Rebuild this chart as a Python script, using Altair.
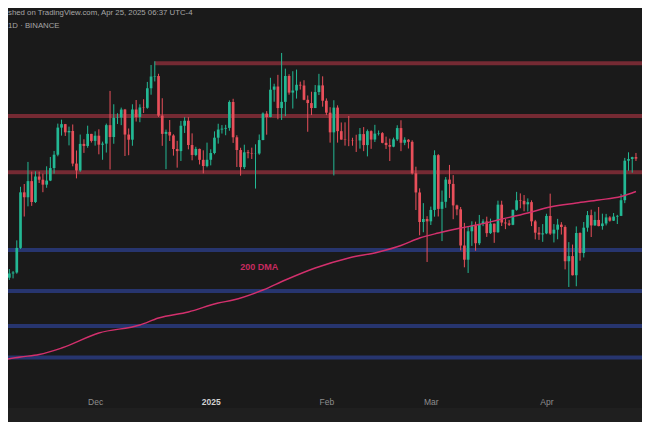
import altair as alt
import pandas as pd

# ---------------- data (BTC/USDT 1D) ----------------
first_day = "2024-11-06"
closes = [
    75860, 75900, 76540, 76680, 80370, 88700, 87960, 90380, 87250, 91070, 90590, 89850, 90460,
    92340, 94340, 98400, 98920, 97690, 97900, 93010, 91970, 95960, 95650, 97460, 96410,
    97190, 95840, 96000, 98770, 96990, 99870, 99910, 101110, 97360, 96590, 101120, 100000, 101420,
    101370, 104300, 106060, 106130, 100200, 97460, 97760, 97220, 95190, 94880, 98680, 99430, 95790,
    94300, 95210, 93570, 92640, 93580,
    94590, 96890, 98110, 98240, 98360, 102240, 96950, 95040, 92480, 94700, 94570, 94500, 94520,
    96530, 100500, 99990, 104080, 104560, 101330, 102260, 106140, 103650, 103960, 104820, 104710,
    102570, 102080, 101330, 103730, 104730, 102430,
    100640, 97690, 101400, 97870, 96610, 96550, 96530, 96480, 96470, 97430, 95780, 97870, 96610,
    97500, 97570, 96120, 95780, 95540, 96640, 98330, 96130, 96580, 96270, 91550, 88680, 84250,
    84700, 84350,
    86060, 94270, 86220, 87280, 90610, 89960, 86740, 86150, 80730, 78600, 82860, 83720, 81070,
    83970, 84340, 82580, 84010, 82720, 86850, 84170, 84040, 83830, 86080, 87500, 87420, 86900,
    87230, 84350, 82650, 82390, 82550,
    85160, 82520, 83100, 83860, 83500, 78370, 79140, 76270, 82600, 79600, 83400, 85280, 83740,
    84560, 83640, 84030, 84940, 84450, 85060, 85170, 87520, 93440, 93690, 93980, 93750,
]
first_open = 69400
highs = [
    76500, 76960, 77200, 76900, 81500, 89530, 89950, 93260, 91800, 91850, 91800, 91500, 92600,
    94000, 94900, 99000, 99590, 98950, 98550, 98870, 94970, 97360, 96650, 98690, 97460,
    97840, 98150, 96300, 99000, 103900, 101900, 100550, 101400, 101200, 98270, 101900, 102540,
    101900, 102650, 105250, 107790, 108350, 106470, 102800, 98100, 99540, 97400, 96420, 99400,
    99960, 99960, 97540, 95530, 95250, 95000, 96150,
    95150, 97840, 98980, 98780, 98820, 102480, 102720, 97260, 95380, 95840, 95050, 95400, 95900,
    97370, 100680, 100870, 105870, 104980, 106310, 109590, 107240, 106400, 106850, 107100, 105290,
    105500, 103220, 103780, 104780, 106460, 106090,
    102780, 101460, 102500, 101740, 99170, 99190, 100140, 96880, 97330, 98340, 98480, 98120, 98000,
    98820, 97970, 97730, 97050, 96750, 96900, 98750, 99500, 96950, 96670, 96500, 92540, 89300,
    87080, 85120,
    86560, 95000, 94420, 88970, 90990, 92810, 91280, 86850, 86500, 84120, 83620, 84360, 84300,
    85310, 84670, 85050, 84760, 84020, 87450, 87440, 84700, 84540, 86100, 88770, 88540, 88290,
    87790, 87500, 84570, 83500, 83940,
    85490, 88500, 83940, 84720, 84230, 83750, 81240, 80870, 83590, 82700, 84250, 85900, 86100,
    85800, 86500, 85500, 85470, 85130, 85600, 85320, 88460, 93860, 94700, 94030, 94600,
]
lows = [
    69300, 74450, 75570, 75800, 76500, 80220, 85070, 86600, 86670, 87100, 90100, 88720, 89380,
    90380, 91500, 94100, 97200, 97150, 95740, 92600, 90790, 91770, 94610, 95380, 96160,
    95700, 94400, 93580, 94660, 92120, 95980, 98950, 98770, 94150, 94260, 95680, 99310, 99210,
    100600, 101230, 103330, 105320, 100000, 95670, 92180, 96400, 94200, 92400, 93400, 97600,
    95140, 93500, 94120, 92880, 91530, 92450,
    92740, 94400, 96000, 97510, 97260, 97930, 96110, 92500, 91200, 92200, 93800, 93700, 89260,
    94330, 96500, 97340, 99950, 102280, 99650, 99550, 100120, 103340, 101260, 102750, 104100,
    102500, 97780, 100280, 101330, 103280, 101540,
    100280, 96150, 91230, 96150, 96590, 95700, 95620, 95690, 94750, 95250, 94870, 94090, 95220,
    96250, 97220, 96050, 95200, 93390, 95460, 96400, 94870, 95770, 95270, 91370, 86050, 82260,
    82720, 78260,
    83800, 85050, 85080, 81390, 86380, 87850, 84670, 85260, 80000, 77460, 76610, 80670, 79940,
    80800, 83630, 82020, 82460, 81130, 82620, 83650, 83180, 83650, 83770, 85940, 86310, 85860,
    85820, 83640, 81650, 81570, 81280,
    82430, 82320, 81190, 81660, 82370, 77150, 74510, 76240, 74620, 78460, 78940, 82800, 82000,
    83680, 83600, 83100, 83740, 84300, 84400, 83950, 85140, 87080, 91940, 91650, 93400,
]

dma_dates = ["2024-11-06", "2024-11-11", "2024-11-16", "2024-11-22", "2024-12-02", "2024-12-13",
             "2024-12-18", "2024-12-26", "2025-01-03", "2025-01-07", "2025-01-15", "2025-01-21",
             "2025-01-29", "2025-02-07", "2025-02-15", "2025-02-21", "2025-02-26", "2025-03-03",
             "2025-03-09", "2025-03-14", "2025-03-19", "2025-03-27", "2025-04-02", "2025-04-09",
             "2025-04-15", "2025-04-21", "2025-04-25"]
dma_values = [63570, 64020, 64390, 65360, 67610, 68810, 69860, 70760, 72110, 72560, 74060, 75560,
              77360, 78860, 79760, 80730, 81850, 82600, 83350, 83880, 84550, 85600, 86500, 87100,
              87550, 88070, 88820]

level_prices = [108040, 100150, 91700, 80050, 73900, 68660, 63930]
level_starts = ["2024-12-17", "2024-11-01", "2024-11-01", "2024-11-01", "2024-11-01",
                "2024-11-01", "2024-11-01"]
level_kinds = ["resistance", "resistance", "resistance", "support", "support", "support", "support"]

dma_label = "200 DMA"
dma_label_date = "2025-01-14"
dma_label_price = 77500

header_line1 = "shed on TradingView.com, Apr 25, 2025 06:37 UTC-4"
header_line2 = "1D · BINANCE"

# ---------------- tables ----------------
dates = pd.date_range(first_day, periods=len(closes), freq="D")
opens = [first_open] + closes[:-1]
candles = pd.DataFrame({
    "date": dates.strftime("%Y-%m-%dT00:00:00"),
    "open": opens, "high": highs, "low": lows, "close": closes,
})
candles["dir"] = ["up" if c >= o else "down" for o, c in zip(opens, closes)]

dma = pd.DataFrame({"date": [d + "T00:00:00" for d in dma_dates], "value": dma_values})
levels = pd.DataFrame({
    "start": [d + "T00:00:00" for d in level_starts],
    "end": ["2025-05-30T00:00:00"] * len(level_prices),
    "price": level_prices, "kind": level_kinds,
})
label_df = pd.DataFrame({"date": [dma_label_date + "T00:00:00"], "value": [dma_label_price],
                         "text": [dma_label]})
one = pd.DataFrame({"a": [0]})

# ---------------- scales ----------------
W, H = 634, 384
px_per_day = 3.73
origin = pd.Timestamp("2024-11-05 12:00")
t0 = origin + pd.Timedelta(days=8 / px_per_day)
t1 = origin + pd.Timedelta(days=(8 + W) / px_per_day)


def dt(ts):
    return alt.DateTime(year=ts.year, month=ts.month, date=ts.day, hours=ts.hour,
                        minutes=ts.minute)


xscale = alt.Scale(domain=[dt(t0), dt(t1)], padding=0, nice=False)
yscale = alt.Scale(domain=[58770, 116330], zero=False, nice=False, padding=0)

xaxis = alt.Axis(
    values=[alt.DateTime(year=2024, month=12, date=1), alt.DateTime(year=2025, month=1, date=1),
            alt.DateTime(year=2025, month=2, date=1), alt.DateTime(year=2025, month=3, date=1),
            alt.DateTime(year=2025, month=4, date=1)],
    labelExpr="month(datum.value) == 0 ? timeFormat(datum.value, '%Y') : timeFormat(datum.value, '%b')",
    labelColor={"condition": {"test": "month(datum.value) == 0", "value": "#d2d2d2"},
                "value": "#8e8e8e"},
    labelFontWeight={"condition": {"test": "month(datum.value) == 0", "value": "bold"},
                     "value": "normal"},
    labelFont="Liberation Sans", labelFontSize=8.5, labelPadding=5,
    domain=False, ticks=False, grid=False, labelOverlap=False, labelBound=False,
    labelFlush=False,
)


def X(field):
    return alt.X(f"{field}:T", scale=xscale, axis=xaxis, title=None)


def Y(field):
    return alt.Y(f"{field}:Q", scale=yscale, axis=None, title=None)


UP, DOWN = "#23b894", "#e84f5a"
color = alt.Color("dir:N", scale=alt.Scale(domain=["up", "down"], range=[UP, DOWN]), legend=None)

strip = alt.Chart(one).mark_rect(color="#1f1f1f").encode(
    x=alt.value(-10), x2=alt.value(700), y=alt.value(400), y2=alt.value(440))

level_rules = alt.Chart(levels).mark_rule(strokeWidth=4, clip=True).encode(
    x=X("start"), x2="end:T", y=Y("price"),
    stroke=alt.Stroke("kind:N", scale=alt.Scale(domain=["resistance", "support"],
                                                range=["#752a33", "#27356f"]), legend=None),
)

wicks = alt.Chart(candles).mark_rule(strokeWidth=1, clip=True).encode(
    x=X("date"), y=Y("low"), y2="high:Q", color=color)
bodies = alt.Chart(candles).mark_bar(size=2.7, clip=True).encode(
    x=X("date"), y=Y("open"), y2="close:Q", color=color)

dma_line = alt.Chart(dma).mark_line(color="#d3306d", strokeWidth=1.4, interpolate="monotone",
                                    clip=True).encode(x=X("date"), y=Y("value"))

dma_text = alt.Chart(label_df).mark_text(color="#c92a60", font="Liberation Sans", fontSize=9,
                                         fontWeight="bold").encode(
    x=X("date"), y=Y("value"), text="text:N")

hdr1 = alt.Chart(one).mark_text(align="left", baseline="middle", color="#a6a6a6",
                                font="Liberation Sans", fontSize=7.8, text=header_line1).encode(
    x=alt.value(0), y=alt.value(5))
hdr2 = alt.Chart(one).mark_text(align="left", baseline="middle", color="#a6a6a6",
                                font="Liberation Sans", fontSize=7.8, text=header_line2).encode(
    x=alt.value(0), y=alt.value(18))

chart = alt.layer(strip, level_rules, wicks, bodies, dma_line, dma_text, hdr1, hdr2).resolve_scale(
    color="independent", stroke="independent"
).properties(
    width=W, height=H,
    autosize=alt.AutoSizeParams(type="none"),
    padding={"left": 0, "top": 0, "right": 0, "bottom": 30},
    background="#1a1a1a",
).configure_view(stroke=None)

chart.save("out.html", embed_options={"renderer": "svg", "actions": False})
